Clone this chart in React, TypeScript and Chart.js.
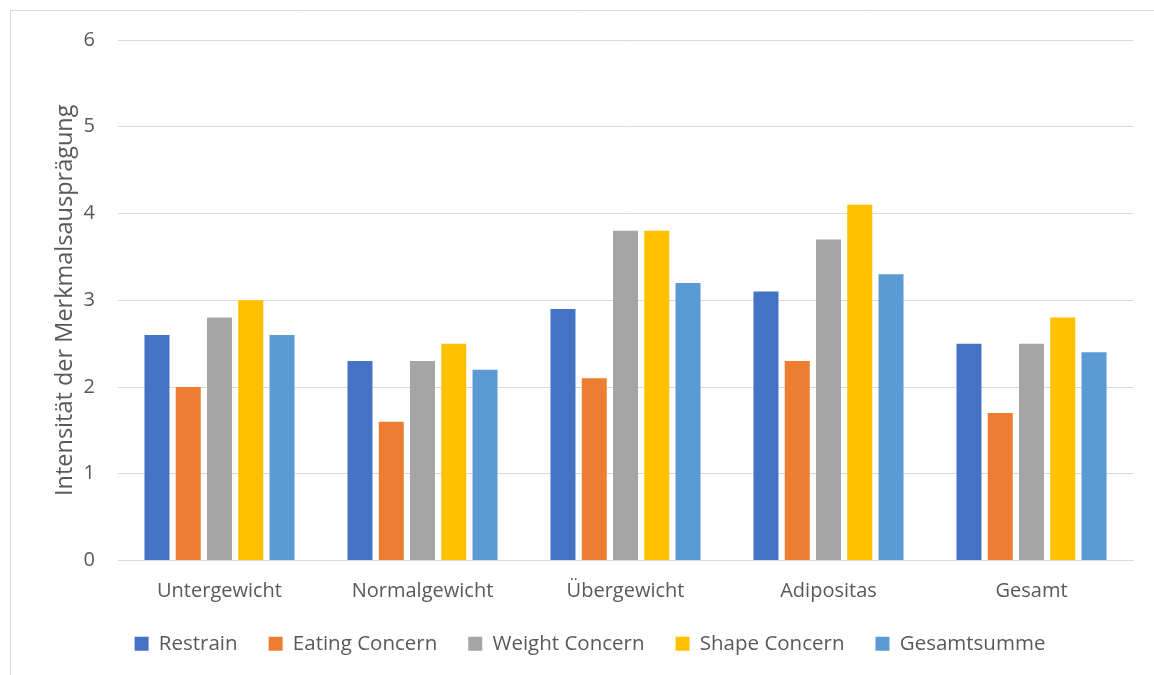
import React, { useEffect, useRef } from "react";
import { Chart, registerables } from "chart.js";

Chart.register(...registerables);

const categories = ["Untergewicht", "Normalgewicht", "Übergewicht", "Adipositas", "Gesamt"];
const restrain = [2.6, 2.3, 2.9, 3.1, 2.5];
const eatingConcern = [2.0, 1.6, 2.1, 2.3, 1.7];
const weightConcern = [2.8, 2.3, 3.8, 3.7, 2.5];
const shapeConcern = [3.0, 2.5, 3.8, 4.1, 2.8];
const gesamtsumme = [2.6, 2.2, 3.2, 3.3, 2.4];
const yTitle = "Intensität der Merkmalsausprägung";

const FONT = "'Open Sans', 'Liberation Sans', sans-serif";
const TEXT = "#595959";

const framePlugin = {
  id: "frame",
  beforeDraw(chart: any) {
    const ctx = chart.ctx;
    ctx.save();
    ctx.fillStyle = "#ffffff";
    ctx.fillRect(0, 0, chart.width, chart.height);
    ctx.strokeStyle = "#d9d9d9";
    ctx.lineWidth = 1;
    ctx.beginPath();
    ctx.moveTo(10.5, chart.height);
    ctx.lineTo(10.5, 10.5);
    ctx.lineTo(chart.width, 10.5);
    ctx.stroke();
    ctx.restore();
  },
};

export default function App() {
  const ref = useRef<HTMLCanvasElement>(null);
  useEffect(() => {
    document.body.style.margin = "0";
    const ds = (label: string, data: number[], color: string) => ({
      label,
      data,
      backgroundColor: color,
      borderWidth: 0,
      categoryPercentage: 0.77,
      barPercentage: 0.8,
    });
    const chart = new Chart(ref.current!, {
      type: "bar",
      data: {
        labels: categories,
        datasets: [
          ds("Restrain", restrain, "#4472C4"),
          ds("Eating Concern", eatingConcern, "#ED7D31"),
          ds("Weight Concern", weightConcern, "#A5A5A5"),
          ds("Shape Concern", shapeConcern, "#FFC000"),
          ds("Gesamtsumme", gesamtsumme, "#5B9BD5"),
        ],
      },
      options: {
        animation: false,
        responsive: false,
        layout: { padding: { left: 47, right: 21, top: 40, bottom: 11 } },
        plugins: {
          tooltip: { enabled: false },
          legend: {
            position: "bottom",
            labels: {
              boxWidth: 14,
              boxHeight: 14,
              padding: 31,
              color: TEXT,
              font: { family: FONT, size: 20.5 },
            },
          },
        },
        scales: {
          x: {
            grid: { display: false, drawTicks: false },
            border: { display: true, color: "#d9d9d9" },
            ticks: { color: TEXT, font: { family: FONT, size: 20 }, padding: 19 },
            afterFit: (s: any) => {
              s.height = 42;
              s._computeLabelArea = () => undefined;
            },
          },
          y: {
            min: 0,
            max: 6,
            ticks: { stepSize: 1, color: TEXT, font: { family: FONT, size: 20 }, padding: 23 },
            grid: { color: "#d9d9d9", drawTicks: false },
            border: { display: false },
            title: {
              display: true,
              text: yTitle,
              color: TEXT,
              font: { family: FONT, size: 23.5, weight: "normal" },
              padding: { top: 4, bottom: 0 },
            },
            afterFit: (s: any) => {
              s.width = 71;
            },
          },
        },
      },
      plugins: [framePlugin],
    });
    return () => chart.destroy();
  }, []);
  return <canvas ref={ref} width={1154} height={675} style={{ display: "block" }} />;
}
